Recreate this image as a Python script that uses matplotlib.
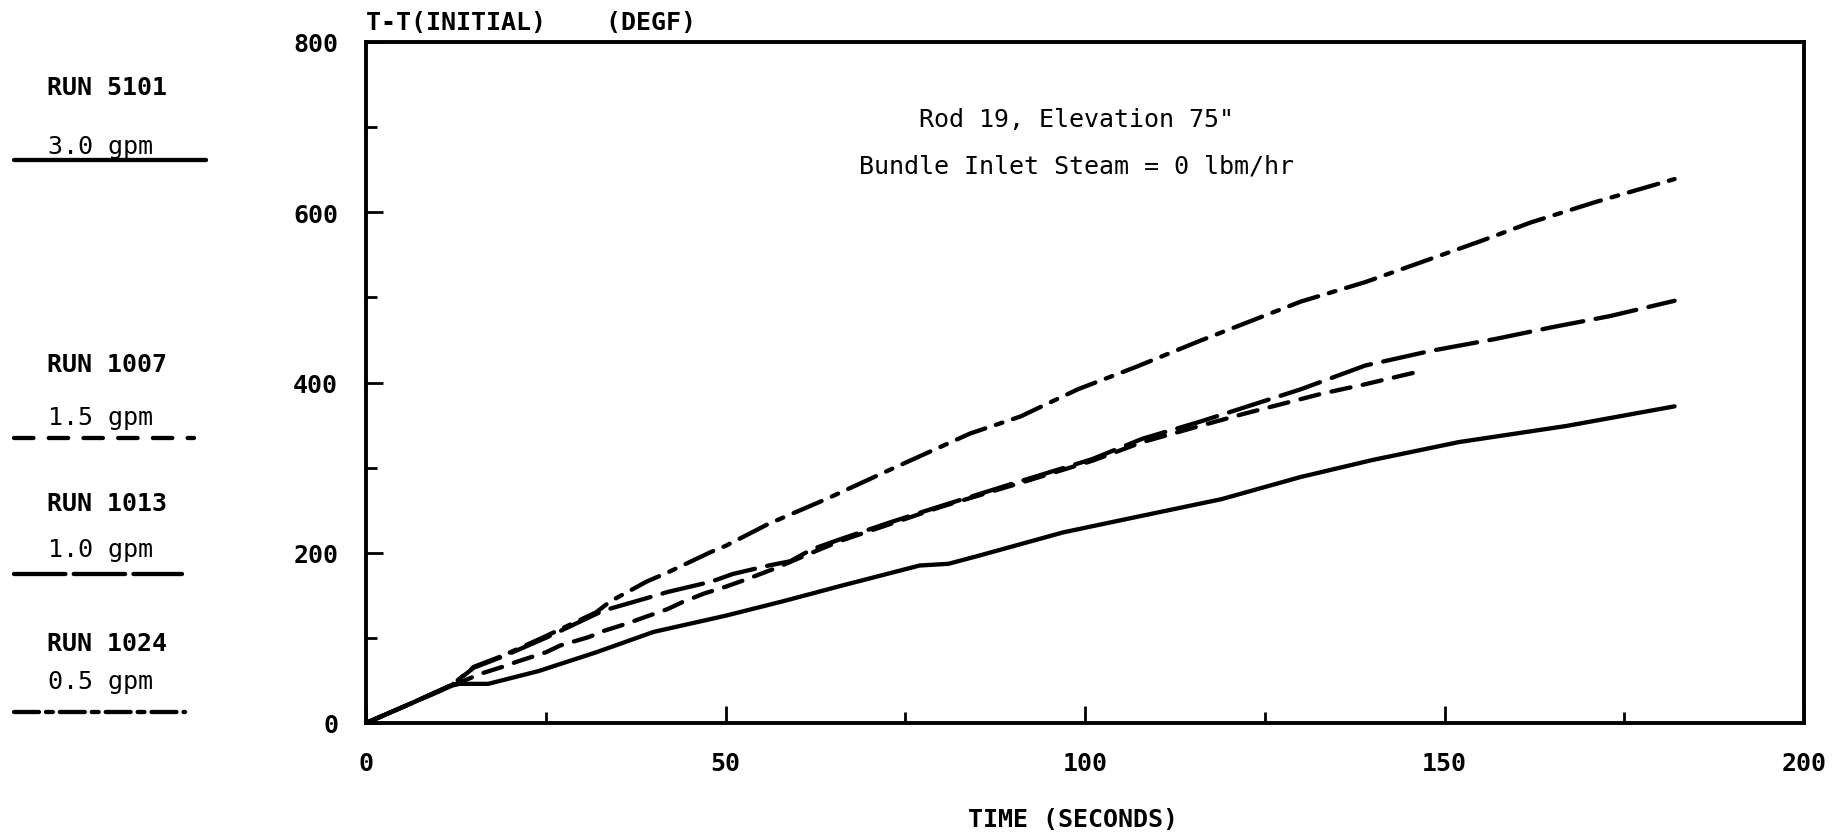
import matplotlib
matplotlib.use("Agg")
import matplotlib.pyplot as plt
from matplotlib.lines import Line2D

# ---- data (time in s, T - T(initial) in degF) ----
t_run5101 = [0, 6, 12, 13, 17, 24, 32, 40, 50, 58, 66, 77, 81, 85, 97, 106,
             119, 130, 140, 152, 167, 182]
T_run5101 = [0, 22, 44, 46, 46, 61, 83, 107, 126, 143, 161, 185, 187, 196,
             224, 240, 263, 289, 309, 330, 349, 372]

t_run1007 = [0, 6, 12, 16, 19, 21, 25, 27, 31, 33, 36, 39, 42, 44, 47, 50, 53,
             57, 62, 66, 73, 80, 91, 101, 108, 116, 122, 133, 139, 147]
T_run1007 = [0, 22, 44, 58, 66, 72, 83, 91, 101, 108, 116, 125, 134, 142, 152,
             160, 169, 182, 200, 214, 234, 254, 282, 308, 330, 349, 363, 387,
             398, 414]

t_run1013 = [0, 6, 12, 15, 19, 25, 33, 40, 42, 48, 51, 56, 59, 62, 66, 73, 80,
             91, 101, 108, 116, 130, 139, 148, 157, 165, 173, 182]
T_run1013 = [0, 22, 45, 65, 78, 100, 132, 149, 154, 166, 175, 185, 190, 204,
             216, 236, 255, 284, 310, 334, 354, 392, 420, 437, 451, 465, 478,
             496]

t_run1024 = [0, 6, 12, 15, 19, 25, 32, 34, 39, 42, 48, 50, 56, 64, 73, 84, 91,
             99, 107, 116, 130, 139, 148, 155, 162, 171, 182]
T_run1024 = [0, 22, 45, 66, 79, 102, 130, 143, 166, 177, 201, 208, 234, 263,
             298, 340, 360, 392, 418, 449, 495, 518, 545, 566, 588, 612, 639]

run_names = ["RUN 5101", "RUN 1007", "RUN 1013", "RUN 1024"]
flow_labels = ["3.0 gpm", "1.5 gpm", "1.0 gpm", "0.5 gpm"]

x_ticklabels = ["0", "50", "100", "150", "200"]
y_ticklabels = ["0", "200", "400", "600", "800"]

PLOT_FONT = "DejaVu Sans Mono"
TYPE_FONT = "DejaVu Sans Mono"

plt.rcParams["lines.scale_dashes"] = False

styles = [
    dict(linestyle="-"),
    dict(linestyle=(0, (14, 9))),
    dict(linestyle=(0, (30, 9))),
    dict(linestyle=(0, (22, 8, 5, 8))),
]
legend_styles = [
    dict(linestyle="-"),
    dict(linestyle=(0, (14, 11))),
    dict(linestyle=(0, (37, 6))),
    dict(linestyle=(0, (18, 5, 5, 5))),
]

fig = plt.figure(figsize=(18.45, 8.37), dpi=100)
ax = fig.add_axes([366 / 1845, 1 - 724 / 837, (1804 - 366) / 1845, (724 - 43) / 837])

series = [(t_run5101, T_run5101), (t_run1007, T_run1007),
          (t_run1013, T_run1013), (t_run1024, T_run1024)]
for (t, T), st in zip(series, styles):
    ax.plot(t, T, color="black", lw=3.1, solid_capstyle="round",
            dash_capstyle="round", **st)

ax.set_xlim(0, 200)
ax.set_ylim(0, 800)
for sp in ax.spines.values():
    sp.set_linewidth(2.8)

ax.set_xticks([0, 50, 100, 150, 200])
ax.set_xticklabels(x_ticklabels)
ax.set_xticks([25, 75, 125, 175], minor=True)
ax.set_yticks([0, 200, 400, 600, 800])
ax.set_yticklabels(y_ticklabels)
ax.set_yticks([100, 300, 500, 700], minor=True)
ax.tick_params(which="major", direction="in", length=12, width=2, labelsize=18)
ax.tick_params(which="minor", direction="in", length=8, width=2)
ax.tick_params(axis="y", pad=20)
ax.tick_params(axis="x", pad=20)
for lab in ax.get_xticklabels() + ax.get_yticklabels():
    lab.set_family(PLOT_FONT)
    lab.set_fontweight("bold")

ax.text(0, 1.012, "T-T(INITIAL)    (DEGF)", transform=ax.transAxes,
        family=PLOT_FONT, fontweight="bold", fontsize=18, va="bottom", ha="left")
fig.text(1073 / 1845, 1 - 820 / 837, "TIME (SECONDS)", family=PLOT_FONT,
         fontweight="bold", fontsize=18, ha="center", va="center")

ax.text(0.494, 0.887, 'Rod 19, Elevation 75"', transform=ax.transAxes,
        family=TYPE_FONT, fontsize=18, ha="center", va="center")
ax.text(0.494, 0.819, "Bundle Inlet Steam = 0 lbm/hr", transform=ax.transAxes,
        family=TYPE_FONT, fontsize=18, ha="center", va="center")

# ---- hand-drawn style key at the left ----
run_y = [88, 365, 504, 644]
flow_y = [147, 418, 550, 682]
key_y = [161, 439, 575, 713]
key_x1 = [206, 194, 182, 185]
for name, flow, ry, fy, ky, x1, st in zip(run_names, flow_labels, run_y, flow_y,
                                          key_y, key_x1, legend_styles):
    fig.text(107 / 1845, 1 - ry / 837, name, family=PLOT_FONT, fontweight="bold",
             fontsize=18, ha="center", va="center")
    fig.text(100 / 1845, 1 - fy / 837, flow, family=TYPE_FONT, fontsize=18,
             ha="center", va="center")
    fig.add_artist(Line2D([14 / 1845, x1 / 1845], [1 - ky / 837, 1 - ky / 837],
                          color="black", lw=3.1, solid_capstyle="round",
                          dash_capstyle="round", **st))

fig.savefig("out.png", dpi=100)
